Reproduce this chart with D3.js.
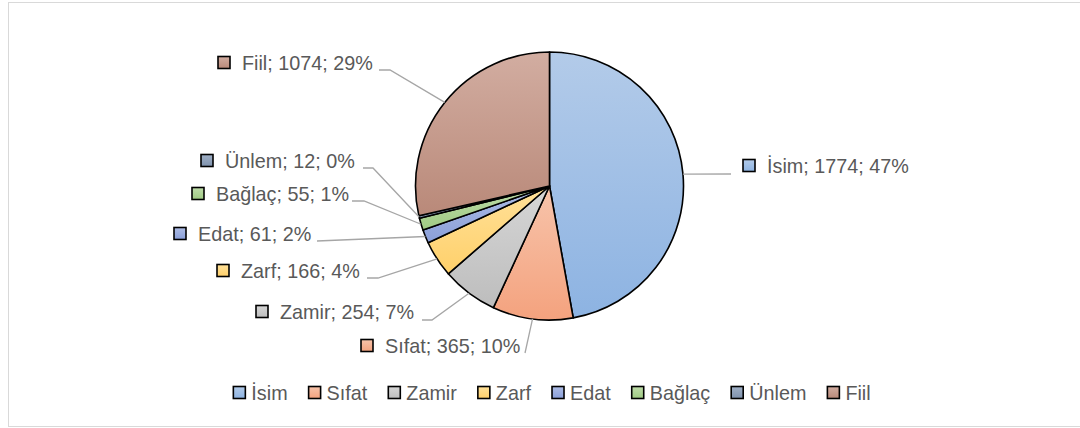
<!DOCTYPE html>
<html>
<head>
<meta charset="utf-8">
<script src="https://d3js.org/d3.v7.min.js"></script>
<style>
  html, body { margin: 0; padding: 0; background: #fff; }
  text { font-family: "Liberation Sans", Arial, sans-serif; fill: #595959; }
</style>
</head>
<body>
<div id="chart"></div>
<script>
// data
var categories = ["İsim", "Sıfat", "Zamir", "Zarf", "Edat", "Bağlaç", "Ünlem", "Fiil"];
var counts = [1774, 365, 254, 166, 61, 55, 12, 1074];

// gradient colours per slice (top -> bottom)
var lightColors = ["#b3cbe9", "#f7c4ab", "#d6d6d6", "#ffe19a", "#aebde5", "#bfdcaa", "#a0b0c6", "#d2ada1"];
var darkColors  = ["#8db3e2", "#f4a27e", "#bdbdbd", "#ffd06a", "#8a9fd9", "#9fca83", "#7f92ad", "#b98979"];

// label placement (text start, baseline, leader end, elbow)
var labelLayout = [
  { x: 767, y: 173, end: [731, 174], elbow: null },
  { x: 385, y: 353, end: [525, 353], elbow: null },
  { x: 280, y: 319, end: [422, 320], elbow: [432, 320] },
  { x: 241, y: 278, end: [367, 278], elbow: [378, 278] },
  { x: 198, y: 241, end: [317, 241], elbow: null },
  { x: 216, y: 201, end: [352, 201], elbow: [364, 201] },
  { x: 225, y: 168, end: [363, 168], elbow: [373, 168] },
  { x: 242, y: 70,  end: [379, 70],  elbow: [390, 70] }
];

var width = 1080, height = 428;
var cx = 549.5, cy = 186, radius = 134;
var fontSize = 19.8;

var svg = d3.select("#chart")
  .append("svg")
  .attr("width", width)
  .attr("height", height);

// chart frame
svg.append("rect")
  .attr("x", 8.5).attr("y", 2.5)
  .attr("width", 1100).attr("height", 424)
  .attr("fill", "#fff")
  .attr("stroke", "#d9d9d9")
  .attr("stroke-width", 1);

var defs = svg.append("defs");
categories.forEach(function(c, i) {
  var m = defs.append("linearGradient")
    .attr("id", "grad" + i)
    .attr("x1", 0).attr("y1", 0).attr("x2", 0).attr("y2", 1);
  m.append("stop").attr("offset", "0%").attr("stop-color", lightColors[i]);
  m.append("stop").attr("offset", "100%").attr("stop-color", darkColors[i]);
});

var total = d3.sum(counts);
var data = categories.map(function(c, i) {
  return { name: c, value: counts[i], idx: i };
});

var pie = d3.pie()
  .sort(null)
  .value(function(d) { return d.value; });

var arc = d3.arc()
  .innerRadius(0)
  .outerRadius(radius);

var arcs = pie(data);

var g = svg.append("g")
  .attr("transform", "translate(" + cx + "," + cy + ")");

g.selectAll("path.slice")
  .data(arcs)
  .enter()
  .append("path")
  .attr("class", "slice")
  .attr("d", arc)
  .attr("fill", function(d) { return "url(#grad" + d.data.idx + ")"; })
  .attr("stroke", "#000")
  .attr("stroke-width", 1.6)
  .attr("stroke-linejoin", "round");

// leader lines
var lineGen = d3.line();
svg.append("g")
  .selectAll("path.leader")
  .data(arcs)
  .enter()
  .append("path")
  .attr("class", "leader")
  .attr("fill", "none")
  .attr("stroke", "#a6a6a6")
  .attr("stroke-width", 1.3)
  .attr("d", function(d) {
    var a = (d.startAngle + d.endAngle) / 2;
    var p0 = [cx + radius * Math.sin(a), cy - radius * Math.cos(a)];
    var L = labelLayout[d.data.idx];
    var pts = [p0];
    if (L.elbow) pts.push(L.elbow);
    pts.push(L.end);
    return lineGen(pts);
  });

// data labels
var labels = svg.append("g")
  .selectAll("g.label")
  .data(data)
  .enter()
  .append("g")
  .attr("class", "label");

labels.append("rect")
  .attr("x", function(d) { return labelLayout[d.idx].x - 24; })
  .attr("y", function(d) { return labelLayout[d.idx].y - 13.5; })
  .attr("width", 12)
  .attr("height", 12)
  .attr("fill", function(d) { return "url(#grad" + d.idx + ")"; })
  .attr("stroke", "#000")
  .attr("stroke-width", 1.6);

labels.append("text")
  .attr("x", function(d) { return labelLayout[d.idx].x; })
  .attr("y", function(d) { return labelLayout[d.idx].y; })
  .style("font-size", fontSize + "px")
  .text(function(d) {
    return d.name + "; " + d.value + "; " + Math.round(d.value / total * 100) + "%";
  });

// legend
var legendY = 400;
var legend = svg.append("g");
var items = legend.selectAll("g.item")
  .data(data)
  .enter()
  .append("g")
  .attr("class", "item");

items.append("rect")
  .attr("x", 0)
  .attr("y", legendY - 13.5)
  .attr("width", 12)
  .attr("height", 12)
  .attr("fill", function(d) { return "url(#grad" + d.idx + ")"; })
  .attr("stroke", "#000")
  .attr("stroke-width", 1.6);

items.append("text")
  .attr("x", 18)
  .attr("y", legendY)
  .style("font-size", fontSize + "px")
  .text(function(d) { return d.name; });

var offset = 0;
items.each(function() {
  var w = d3.select(this).select("text").node().getComputedTextLength();
  d3.select(this).attr("transform", "translate(" + offset + ",0)");
  offset += 18 + w + 21;
});
var legendWidth = offset - 21;
legend.attr("transform", "translate(" + (552 - legendWidth / 2) + ",0)");
</script>
</body>
</html>
